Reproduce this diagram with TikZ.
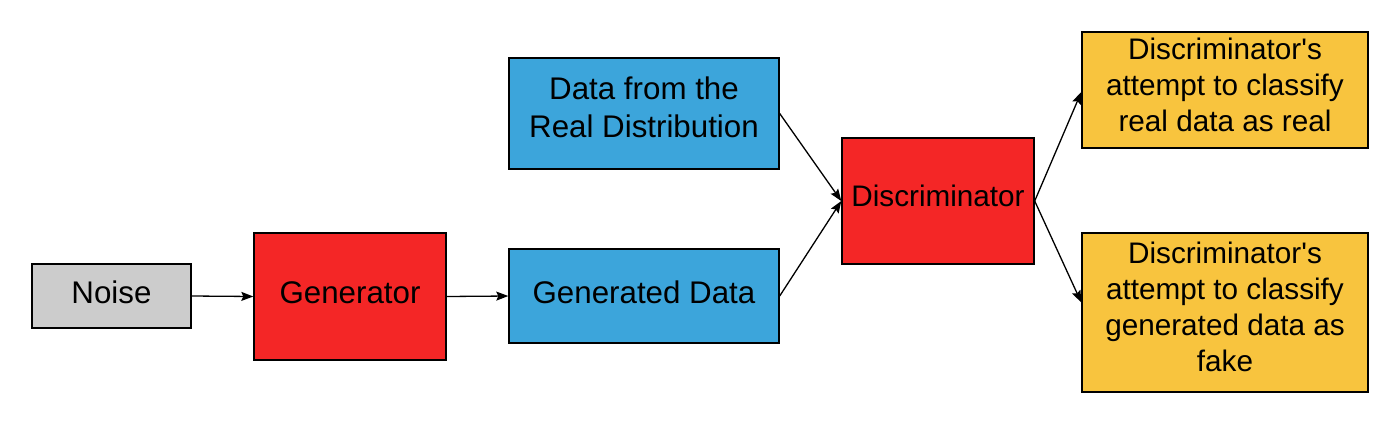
\documentclass[tikz,border=0pt]{standalone}
\usepackage{fontspec}
\setmainfont{Liberation Sans}
\newfontfamily\plainsans{Liberation Sans}
\usetikzlibrary{arrows.meta}
\definecolor{gred}{HTML}{F42626}
\definecolor{gblue}{HTML}{3CA5DB}
\definecolor{gyellow}{HTML}{F8C43E}
\definecolor{ggray}{HTML}{CCCCCC}
\tikzset{
  box/.style={draw=black, line width=1.4pt, inner sep=0pt},
  bigtxt/.style={inner sep=0pt, align=center, text=black,
    font=\plainsans\fontsize{31.3}{38}\selectfont},
  smalltxt/.style={inner sep=0pt, align=center, text=black,
    font=\plainsans\fontsize{29.7}{36}\selectfont},
  conn/.style={line width=1.3pt, -{Stealth[length=12pt,width=9pt,inset=2pt]}}
}
\begin{document}
\begin{tikzpicture}[x=1pt,y=-1pt]
\useasboundingbox (0,0) rectangle (1400,424);
% boxes
\node[box, fill=ggray, minimum width=159pt, minimum height=64pt] (noise) at (111.5,296) {};
\node[box, fill=gred, minimum width=192pt, minimum height=127pt] (gen) at (350,296.5) {};
\node[box, fill=gblue, minimum width=270pt, minimum height=94pt] (gdata) at (644,296) {};
\node[box, fill=gblue, minimum width=270pt, minimum height=111pt] (real) at (644,113.5) {};
\node[box, fill=gred, minimum width=192pt, minimum height=126pt] (disc) at (938,201) {};
\node[box, fill=gyellow, minimum width=286pt, minimum height=116pt] (top) at (1225,90) {};
\node[box, fill=gyellow, minimum width=286pt, minimum height=159pt] (bot) at (1225,312.5) {};
% texts
\node[bigtxt] (noiset) at ([yshift=4pt]noise.center) {Noise};
\node[bigtxt] (gent) at ([yshift=3.5pt]gen.center) {Generator};
\node[bigtxt] (gdatat) at ([yshift=3.3pt]gdata.center) {Generated Data};
\node[bigtxt] (realt) at ([yshift=6.4pt]real.center) {Data from the\\Real Distribution};
\node[smalltxt] (disct) at ([yshift=4.7pt]disc.center) {Discriminator};
\node[smalltxt] (topt) at ([yshift=5.2pt]top.center) {Discriminator's\\attempt to classify\\real data as real};
\node[smalltxt] (bott) at ([yshift=5.6pt]bot.center) {Discriminator's\\attempt to classify\\generated data as\\fake};
% connectors
\draw[conn] (noise.east) -- (gen.west);
\draw[conn] (gen.east) -- (gdata.west);
\draw[conn] (real.east) -- (disc.west);
\draw[conn] (gdata.east) -- (disc.west);
\draw[conn] (disc.east) -- ([yshift=-2pt]top.west);
\draw[conn] (disc.east) -- ([yshift=10pt]bot.west);
\end{tikzpicture}
\end{document}
